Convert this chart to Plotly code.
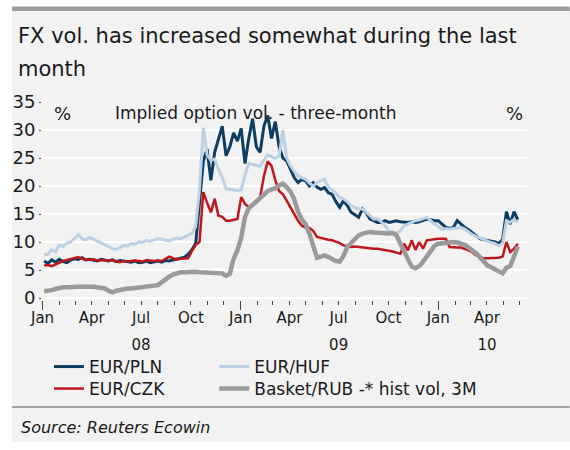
import pandas as pd
import plotly.graph_objects as go

# Weekly (Friday) observations, Jan 2008 - May 2010
WEEKS = pd.date_range("2008-01-04", "2010-05-28", freq="W-FRI")

# Implied three-month option volatility, %
EUR_PLN = [
    6.6, 6.2, 6.8, 6.4, 6.9, 6.5, 6.3, 6.8, 7.0, 6.9,
    7.2, 6.8, 6.9, 6.8, 6.6, 6.9, 6.7, 6.6, 6.8, 6.5,
    6.7, 6.6, 6.5, 6.4, 6.6, 6.3, 6.4, 6.6, 6.3, 6.5,
    6.6, 6.4, 6.7, 6.6, 6.8, 6.9, 7.1, 7.3, 7.8, 8.6,
    9.8, 17.5, 24.4, 26.6, 21.0, 26.0, 28.4, 30.7, 25.4, 27.0,
    29.5, 28.0, 30.3, 24.0, 28.5, 32.0, 27.0, 26.0, 30.7, 32.6,
    28.5, 31.5, 27.0, 25.0, 24.5, 22.9, 21.5, 20.6, 21.2, 20.9,
    20.0, 20.6, 19.8, 19.4, 19.7, 18.8, 18.5, 17.2, 16.2, 17.4,
    16.5, 15.3, 14.8, 14.4, 15.9, 15.2, 14.1, 13.8, 13.5, 13.5,
    13.8, 13.5, 13.6, 13.8, 13.6, 13.5, 13.5, 13.6, 13.5, 13.6,
    13.8, 14.1, 14.0, 13.8, 13.8, 13.2, 12.6, 12.4, 12.6, 13.8,
    13.2, 12.6, 12.2, 11.7, 11.2, 10.6, 10.4, 10.3, 10.1, 10.0,
    9.7, 10.5, 15.4, 13.2, 15.4, 14.0,
]
EUR_HUF = [
    7.7, 7.8, 8.6, 8.3, 9.4, 9.2, 9.8, 10.0, 10.6, 11.3,
    10.6, 10.4, 10.8, 10.5, 10.1, 9.8, 9.5, 9.2, 8.8, 8.7,
    9.0, 9.4, 9.3, 9.7, 9.6, 10.0, 9.9, 10.3, 10.1, 10.4,
    10.6, 10.5, 10.3, 10.2, 10.5, 10.7, 10.6, 10.9, 11.2, 11.5,
    12.8, 19.5, 30.4, 25.6, 24.6, 24.8, 23.0, 21.5, 19.5, 19.4,
    19.3, 19.2, 19.3, 22.0, 24.0, 23.8, 23.6, 23.5, 24.6, 25.6,
    25.2, 25.0, 25.3, 30.0, 25.0, 23.6, 22.6, 21.8, 21.5, 21.2,
    20.5, 20.0, 20.6, 21.0, 21.2, 19.8, 19.3, 18.7, 17.9, 17.7,
    17.2, 16.5, 16.2, 15.9, 15.9, 15.3, 14.6, 14.1, 14.2, 13.5,
    12.9, 12.0, 11.7, 11.6, 12.0, 12.9, 13.2, 13.4, 13.8, 13.9,
    14.1, 14.4, 13.8, 13.2, 12.8, 12.2, 12.4, 12.3, 12.4, 12.5,
    12.6, 12.3, 11.8, 11.3, 11.0, 10.7, 10.4, 10.1, 9.9, 9.7,
    9.3, 9.8, 13.8, 13.5, 14.0, 13.5,
]
EUR_CZK = [
    5.8, 5.9, 5.7, 6.0, 6.4, 6.6, 6.8, 7.0, 7.1, 7.3,
    7.0, 6.9, 6.8, 6.9, 6.7, 6.8, 6.7, 6.6, 6.8, 6.5,
    6.4, 6.6, 6.5, 6.6, 6.7, 6.6, 6.5, 6.8, 6.7, 6.6,
    6.7, 6.6, 7.0, 7.4, 7.1, 6.9, 7.0, 7.0, 7.1, 8.4,
    9.5, 10.0, 18.9, 17.0, 15.3, 17.7, 14.7, 14.5, 13.8, 13.8,
    13.9, 14.1, 18.0, 16.8, 16.2, 16.5, 17.4, 18.0, 21.8, 24.4,
    23.6, 21.0, 19.1, 18.5, 17.4, 16.2, 15.0, 13.8, 12.9, 12.6,
    12.5, 12.0, 10.9, 10.7, 10.6, 10.4, 10.3, 10.1, 9.8, 9.4,
    9.3, 9.1, 9.2, 9.1, 9.1, 9.0, 8.9, 8.8, 8.8, 8.7,
    8.6, 8.5, 8.3, 8.1, 7.9, 9.7, 8.5, 10.3, 8.6, 10.0,
    8.8, 10.3, 10.4, 10.6, 10.6, 10.6, 10.6, 9.1, 9.0, 9.0,
    9.0, 8.8, 8.5, 8.2, 7.6, 7.3, 7.1, 7.1, 7.1, 7.1,
    7.2, 7.4, 10.0, 8.2, 8.8, 9.7,
]
# Historical 3M volatility of the RUB basket, %
BASKET_RUB = [
    1.2, 1.2, 1.4, 1.6, 1.8, 1.9, 1.9, 2.0, 2.0, 2.0,
    2.0, 2.1, 2.0, 2.0, 1.9, 1.9, 1.7, 1.3, 1.0, 1.3,
    1.5, 1.6, 1.7, 1.7, 1.8, 1.8, 1.9, 2.0, 2.0, 2.1,
    2.3, 2.8, 3.4, 3.8, 4.2, 4.5, 4.6, 4.6, 4.7, 4.7,
    4.7, 4.6, 4.6, 4.5, 4.5, 4.6, 4.5, 4.4, 4.0, 4.3,
    7.0, 8.5, 10.8, 14.5, 16.0, 16.6, 17.2, 17.9, 18.6, 19.1,
    19.4, 19.6, 20.1, 20.4, 19.8, 19.0, 17.6, 15.4, 14.0, 13.2,
    11.5, 9.5, 7.2, 7.4, 7.6, 7.3, 6.9, 6.6, 6.5, 7.5,
    9.1, 9.8, 10.3, 11.2, 11.5, 11.7, 11.8, 11.7, 11.6, 11.5,
    11.6, 11.5, 11.6, 11.2, 9.7, 8.4, 6.8, 5.6, 5.3, 5.7,
    6.5, 7.5, 8.6, 9.3, 9.7, 9.8, 10.0, 10.0, 10.0, 9.9,
    9.7, 9.5, 9.0, 8.6, 8.0, 7.3, 6.5, 5.8, 5.5, 5.2,
    4.8, 4.4, 5.4, 5.7, 7.4, 9.2,
]

SERIES_NAMES = ["EUR/PLN", "EUR/HUF", "EUR/CZK", "Basket/RUB -* hist vol, 3M"]
SERIES_COLORS = ["#0c3d63", "#bed1e3", "#c0161e", "#9a9a9a"]
SERIES_WIDTHS = [3, 3, 2.5, 4.5]

TICK_DATES = ["2008-01-01", "2008-04-01", "2008-07-01", "2008-10-01",
              "2009-01-01", "2009-04-01", "2009-07-01", "2009-10-01",
              "2010-01-01", "2010-04-01"]
TICK_TEXT = ["Jan", "Apr", "Jul", "Oct", "Jan", "Apr", "Jul", "Oct", "Jan", "Apr"]
YEAR_LABEL_DATES = ["2008-07-01", "2009-07-01", "2010-04-01"]
YEAR_LABELS = ["08", "09", "10"]
YEAR_STARTS = ["2008-01-01", "2009-01-01", "2010-01-01"]
Y_TICKS = [0, 5, 10, 15, 20, 25, 30, 35]

TITLE_LINES = ["FX vol. has increased somewhat during the last", "month"]
SUBTITLE = "Implied option vol. - three-month"
SOURCE = "Source: Reuters Ecowin"

FONT = "DejaVu Sans"
INK = "#1a1a1a"

W, H = 570, 450
L, R, T, B = 40, 43, 102, 150
PW, PH = W - L - R, H - T - B


def px(x):
    return (x - L) / PW


def py(y):
    return (H - B - y) / PH


X_RANGE = ["2007-12-31", "2010-06-14"]
Y_RANGE = [-0.357, 35]

# Legend grid: two columns, two rows (one single-entry legend per cell)
LEGEND_IDS = ["legend", "legend2", "legend3", "legend4"]
LEGEND_COL_X = [47, 213, 47, 213]
LEGEND_ROW_TOP = [349, 349, 371, 371]

fig = go.Figure()
for name, vals, col, wd, lg in zip(SERIES_NAMES,
                                   [EUR_PLN, EUR_HUF, EUR_CZK, BASKET_RUB],
                                   SERIES_COLORS, SERIES_WIDTHS, LEGEND_IDS):
    fig.add_trace(go.Scatter(x=WEEKS, y=vals, name=name, mode="lines",
                             line=dict(color=col, width=wd, shape="linear"),
                             legend=lg, hoverinfo="skip"))

# Empty carrier traces so the overlaid tick axes get rendered
for xa, dates in (("x2", YEAR_STARTS), ("x3", YEAR_LABEL_DATES)):
    fig.add_trace(go.Scatter(x=dates, y=[None] * len(dates), xaxis=xa, yaxis="y",
                             mode="lines", showlegend=False, hoverinfo="skip"))

axis_font = dict(family=FONT, size=18, color=INK)
legend_font = dict(family=FONT, size=17, color=INK)
xtick_font = dict(family=FONT, size=15, color=INK)

legends = {}
for lg, lx, ly in zip(LEGEND_IDS, LEGEND_COL_X, LEGEND_ROW_TOP):
    legends[lg] = dict(orientation="v", x=px(lx), xanchor="left", y=py(ly),
                       yanchor="top", font=legend_font,
                       bgcolor="rgba(0,0,0,0)", itemwidth=30)

fig.update_layout(
    width=W, height=H,
    margin=dict(l=L, r=R, t=T, b=B),
    paper_bgcolor="white",
    plot_bgcolor="rgba(0,0,0,0)",
    font=dict(family=FONT, color=INK),
    showlegend=True,
    # month labels with quarterly + monthly ticks
    xaxis=dict(range=X_RANGE, tickvals=TICK_DATES, ticktext=TICK_TEXT,
               ticks="outside", ticklen=4, tickcolor="#444", tickwidth=1,
               showgrid=False, zeroline=False, showline=False, tickangle=0,
               tickfont=xtick_font,
               minor=dict(dtick="M1", tick0="2008-01-01", ticks="outside",
                          ticklen=4, tickcolor="#444", showgrid=False)),
    # longer year-boundary ticks
    xaxis2=dict(range=X_RANGE, overlaying="x", anchor="y", side="bottom",
                tickvals=YEAR_STARTS, showticklabels=False, ticks="outside",
                ticklen=9, tickcolor="#444", tickwidth=1,
                showgrid=False, zeroline=False, showline=False),
    # year labels on a second row
    xaxis3=dict(range=X_RANGE, overlaying="x", anchor="y", side="bottom",
                tickvals=YEAR_LABEL_DATES, ticktext=YEAR_LABELS, ticks="",
                ticklabelstandoff=34, tickangle=0, tickfont=xtick_font,
                showgrid=False, zeroline=False, showline=False),
    yaxis=dict(range=Y_RANGE, tickvals=Y_TICKS, ticks="outside", ticklen=2,
               tickcolor="#555", showgrid=True, gridcolor="white", gridwidth=2,
               zeroline=False, showline=False, tickfont=axis_font),
    yaxis2=dict(range=Y_RANGE, tickvals=Y_TICKS, overlaying="y", side="right",
                anchor="x", ticks="outside", ticklen=2, tickcolor="#555",
                showgrid=False, zeroline=False, showline=False,
                tickfont=axis_font),
    **legends,
)

# Panel background, header rule and footer rule
fig.add_shape(type="rect", xref="paper", yref="paper", layer="below",
              x0=px(10), x1=px(570), y0=py(442), y1=py(11),
              fillcolor="#f2f2f2", line=dict(width=0))
fig.add_shape(type="rect", xref="paper", yref="paper", layer="below",
              x0=px(10), x1=px(570), y0=py(11), y1=py(6.5),
              fillcolor="#9b9b9b", line=dict(width=0))
fig.add_shape(type="line", xref="paper", yref="paper", layer="below",
              x0=px(10), x1=px(570), y0=py(407), y1=py(407),
              line=dict(color="#a3a3a3", width=2))

for text, ypx in zip(TITLE_LINES, [36, 69]):
    fig.add_annotation(text=text, xref="paper", yref="paper", x=px(14), y=py(ypx),
                       xanchor="left", yanchor="middle", showarrow=False,
                       font=dict(family=FONT, size=21, color=INK))

fig.add_annotation(text="%", xref="paper", yref="paper", x=px(61), y=py(113),
                   xanchor="center", yanchor="middle", showarrow=False,
                   font=dict(family=FONT, size=18, color=INK))
fig.add_annotation(text="%", xref="paper", yref="paper", x=px(514), y=py(113),
                   xanchor="center", yanchor="middle", showarrow=False,
                   font=dict(family=FONT, size=18, color=INK))
fig.add_annotation(text=SUBTITLE, xref="paper", yref="paper", x=px(111), y=py(113),
                   xanchor="left", yanchor="middle", showarrow=False,
                   font=dict(family=FONT, size=17, color=INK))
fig.add_annotation(text="<i>" + SOURCE + "</i>", xref="paper", yref="paper",
                   x=px(17), y=py(427), xanchor="left", yanchor="middle",
                   showarrow=False, font=dict(family=FONT, size=16, color=INK))

fig.write_html("out.html")
